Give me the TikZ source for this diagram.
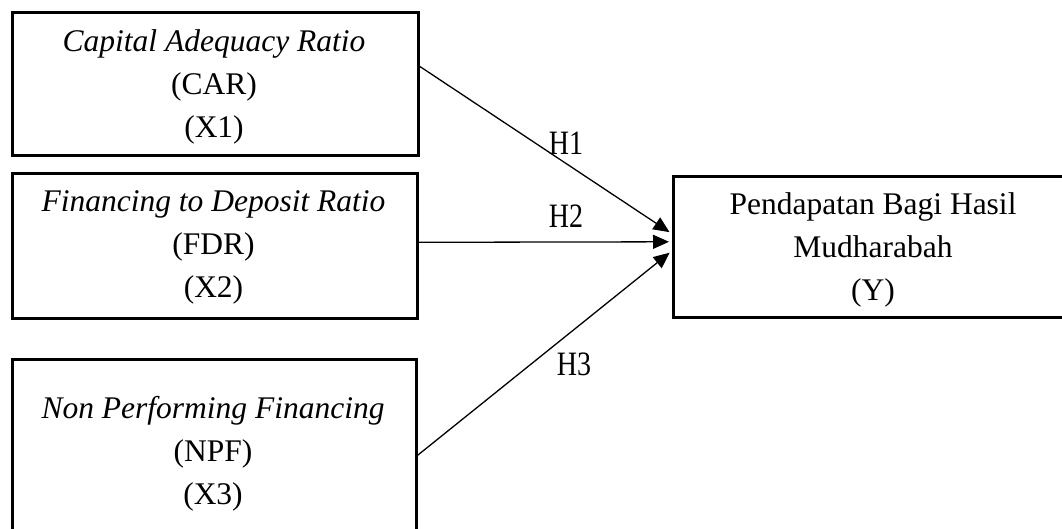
\documentclass[tikz,border=0pt]{standalone}
\usepackage{fontspec}
\usepackage{graphicx}
\setmainfont{Liberation Serif}
\usetikzlibrary{arrows.meta}
\newcommand{\tallH}[1]{\scalebox{1}[1.22]{#1}}
\begin{document}
\begin{tikzpicture}[x=1pt,y=-1pt,
  box/.style={draw=black, line width=2.6pt, inner sep=0pt, anchor=north west},
  txt/.style={font=\fontsize{31.5}{43}\selectfont, align=center, inner sep=0pt},
  hlab/.style={font=\fontsize{28}{34}\selectfont, inner sep=0pt},
  arr/.style={line width=1.3pt, -{Triangle[length=16pt, width=14pt]}, shorten >=3pt}]
\useasboundingbox (0,0) rectangle (1062,529);
\clip (0,0) rectangle (1062,529);
\fill[white] (0,0) rectangle (1062,529);
% boxes
\node[box, minimum width=406pt, minimum height=143pt] (x1) at (11,11) {};
\node[box, minimum width=405pt, minimum height=145pt] (x2) at (11,172) {};
\node[box, minimum width=404pt, minimum height=187pt] (x3) at (11,358) {};
\node[box, minimum width=405pt, minimum height=141pt] (y) at (672,175) {};
% texts
\node[txt] (t1) at (214,87) {\textit{Capital Adequacy Ratio}\\(CAR)\\(X1)};
\node[txt] (t2) at (213.5,247) {\textit{Financing to Deposit Ratio}\\(FDR)\\(X2)};
\node[txt] (t3) at (213,454) {\textit{Non Performing Financing}\\(NPF)\\(X3)};
\node[txt] (ty) at (873,250) {Pendapatan Bagi Hasil\\Mudharabah\\(Y)};
% arrows
\draw[arr] ([yshift=17.5pt]x1.east) -- ([yshift=13pt]y.west);
\draw[arr] ([yshift=3.5pt]x2.east) -- ([yshift=5pt]y.west);
\draw[arr] ([yshift=-2.5pt]x3.east) -- ([yshift=-4pt]y.west);
% labels
\node[hlab] (h1) at (566,143) {\tallH{H1}};
\node[hlab] (h2) at (566,216) {\tallH{H2}};
\node[hlab] (h3) at (574,364) {\tallH{H3}};
\end{tikzpicture}
\end{document}
